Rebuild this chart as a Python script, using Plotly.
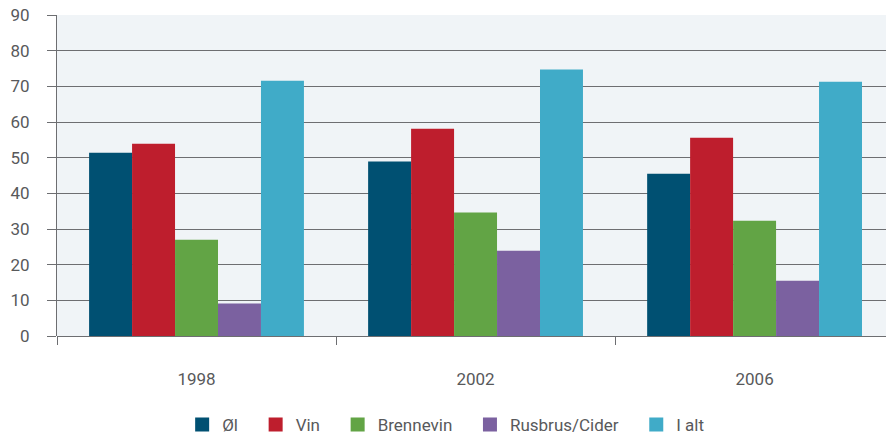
import plotly.graph_objects as go

years = ["1998", "2002", "2006"]
series_names = ["Øl", "Vin", "Brennevin", "Rusbrus/Cider", "I alt"]
ol = [51.4, 48.9, 45.5]
vin = [53.9, 58.1, 55.6]
brennevin = [27.0, 34.6, 32.3]
rusbrus = [9.1, 23.9, 15.5]
i_alt = [71.6, 74.7, 71.3]
y_ticks = [0, 10, 20, 30, 40, 50, 60, 70, 80, 90]

colors = ["#005072", "#BE1E2D", "#62A445", "#7B61A0", "#40ABC8"]
values = [ol, vin, brennevin, rusbrus, i_alt]

grey = "#6D6E71"
text_grey = "#58595B"
font_family = "Roboto, 'DejaVu Sans', sans-serif"

fig = go.Figure()
for name, vals, c in zip(series_names, values, colors):
    fig.add_trace(go.Bar(x=years, y=vals, name=name, showlegend=False,
                         marker=dict(color=c, line=dict(width=0))))
# legend swatches (square, larger than default bar swatch)
for i, (name, c) in enumerate(zip(series_names, colors)):
    label = name if i == len(series_names) - 1 else name + "   "
    fig.add_trace(go.Scatter(x=[None], y=[None], mode="markers", name=label,
                             marker=dict(symbol="square", size=14, color=c),
                             showlegend=True, hoverinfo="skip"))

fig.update_layout(
    width=886, height=435,
    margin=dict(l=57, r=0, t=15, b=99, autoexpand=False),
    paper_bgcolor="white",
    plot_bgcolor="#F0F4F7",
    barmode="group",
    bargap=0.23,
    bargroupgap=0,
    font=dict(family=font_family, size=17, color=text_grey),
    showlegend=True,
    legend=dict(
        orientation="h",
        xref="container", yref="container",
        x=0.503, xanchor="center",
        y=0.023, yanchor="middle",
        font=dict(size=17, color=text_grey),
        itemwidth=30,
        itemsizing="trace",
        tracegroupgap=0,
    ),
    xaxis=dict(
        type="category",
        range=[-0.5, 2.471],
        automargin=False,
        tickson="boundaries",
        ticks="outside",
        ticklen=8,
        tickcolor=grey,
        tickwidth=1,
        showline=False,
        showgrid=False,
        ticklabelstandoff=31,
        tickfont=dict(size=17, color=text_grey),
        fixedrange=True,
    ),
    yaxis=dict(
        range=[0, 90],
        automargin=False,
        tickvals=y_ticks,
        ticks="outside",
        ticklen=9,
        tickcolor=grey,
        tickwidth=1,
        showgrid=True,
        gridcolor=grey,
        gridwidth=1,
        zeroline=True,
        zerolinecolor=grey,
        zerolinewidth=1,
        showline=True,
        linecolor=grey,
        linewidth=1,
        ticklabelstandoff=14,
        ticklabeloverflow="allow",
        tickfont=dict(size=17, color=text_grey),
        fixedrange=True,
    ),
)

fig.write_html("out.html", config={"displayModeBar": False},
               post_script="document.body.style.margin='0';")
